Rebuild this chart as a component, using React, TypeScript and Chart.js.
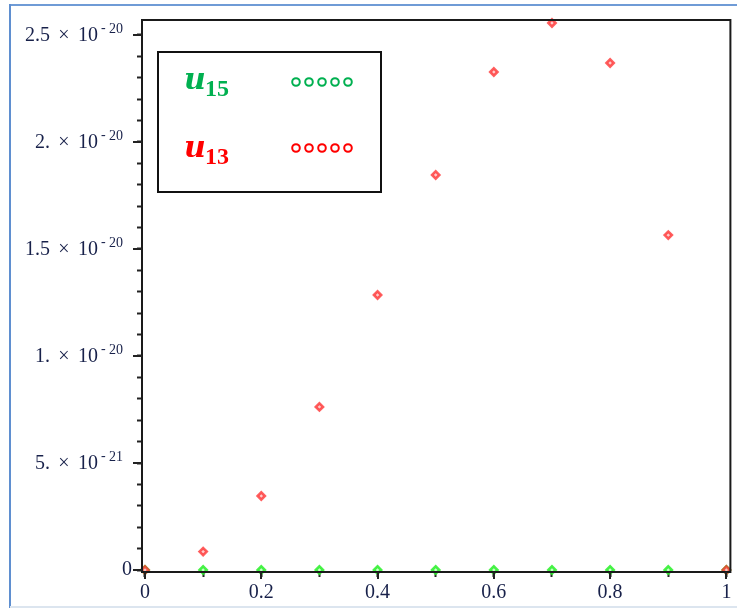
import React, { useEffect, useRef } from 'react';
import { Chart, registerables } from 'chart.js';

Chart.register(...registerables);

// ---- data ----
const xValues = [0, 0.1, 0.2, 0.3, 0.4, 0.5, 0.6, 0.7, 0.8, 0.9, 1];
const u15Values = [0, 0, 0, 0, 0, 0, 0, 0, 0, 0, 0];
const u13Values = [0, 8.6e-22, 3.46e-21, 7.62e-21, 1.285e-20, 1.846e-20, 2.327e-20, 2.556e-20, 2.369e-20, 1.565e-20, 0];

// ---- ticks ----
const xTickValues = [0, 0.1, 0.2, 0.3, 0.4, 0.5, 0.6, 0.7, 0.8, 0.9, 1];
const xTickLabels = ['0', '', '0.2', '', '0.4', '', '0.6', '', '0.8', '', '1'];
const xMajorValues = [0, 0.2, 0.4, 0.6, 0.8, 1];
const yTickValues = [
  0, 1e-21, 2e-21, 3e-21, 4e-21, 5e-21, 6e-21, 7e-21, 8e-21, 9e-21,
  1e-20, 1.1e-20, 1.2e-20, 1.3e-20, 1.4e-20, 1.5e-20, 1.6e-20, 1.7e-20, 1.8e-20, 1.9e-20,
  2e-20, 2.1e-20, 2.2e-20, 2.3e-20, 2.4e-20, 2.5e-20,
];
const yMajorValues = [0, 5e-21, 1e-20, 1.5e-20, 2e-20, 2.5e-20];
const yMajorCoefficients = ['0', '5.', '1.', '1.5', '2.', '2.5'];
const yMajorExponents = ['', '-21', '-20', '-20', '-20', '-20'];

// ---- legend ----
const legendSymbols = ['u', 'u'];
const legendSubscripts = ['15', '13'];
const legendColors = ['#00b050', '#ff0000'];

const LABEL_COLOR = '#18214a';
const SERIF = '"Liberation Serif", "Times New Roman", serif';

const decorPlugin = {
  id: 'decor',
  afterDraw(chart: any) {
    const { ctx, chartArea, scales } = chart;
    const ys = scales.y;
    const xs = scales.x;
    ctx.save();

    // plot frame
    ctx.strokeStyle = '#1a1a1a';
    ctx.lineWidth = 2;
    ctx.strokeRect(chartArea.left, chartArea.top, chartArea.right - chartArea.left, chartArea.bottom - chartArea.top);

    // longer major tick marks
    ctx.strokeStyle = '#222';
    ctx.lineWidth = 2;
    yMajorValues.forEach((v) => {
      const py = Math.round(ys.getPixelForValue(v));
      ctx.beginPath();
      ctx.moveTo(chartArea.left - 9, py);
      ctx.lineTo(chartArea.left, py);
      ctx.stroke();
    });
    xMajorValues.forEach((v) => {
      const px = Math.round(xs.getPixelForValue(v));
      ctx.beginPath();
      ctx.moveTo(px, chartArea.bottom);
      ctx.lineTo(px, chartArea.bottom + 7);
      ctx.stroke();
    });

    // y tick labels with exponents
    ctx.fillStyle = LABEL_COLOR;
    yMajorValues.forEach((v, i) => {
      const py = ys.getPixelForValue(v);
      const coef = yMajorCoefficients[i];
      const exp = yMajorExponents[i];
      ctx.textBaseline = 'middle';
      ctx.font = `20px ${SERIF}`;
      if (!exp) {
        ctx.textAlign = 'right';
        ctx.fillText(coef, 132, py);
        return;
      }
      ctx.textAlign = 'right';
      ctx.fillText(coef, 50, py + 1);
      ctx.textAlign = 'center';
      ctx.fillText('×', 64, py + 1);
      ctx.textAlign = 'left';
      ctx.fillText('10', 78, py + 1);
      ctx.font = `14px ${SERIF}`;
      ctx.fillText(exp.slice(0, 1), 101, py - 7);
      ctx.fillText(exp.slice(1), 109, py - 6);
    });

    // legend box
    const bx = 158, by = 52, bw = 223, bh = 140;
    ctx.fillStyle = '#ffffff';
    ctx.fillRect(bx, by, bw, bh);
    ctx.strokeStyle = '#111';
    ctx.lineWidth = 2;
    ctx.strokeRect(bx, by, bw, bh);
    const baselines = [89, 157];
    const circleYs = [82, 148];
    legendSymbols.forEach((sym, i) => {
      ctx.fillStyle = legendColors[i];
      ctx.textAlign = 'left';
      ctx.textBaseline = 'alphabetic';
      ctx.font = `italic bold 30px "DejaVu Serif", serif`;
      ctx.fillText(sym, 184, baselines[i]);
      ctx.font = `bold 24px ${SERIF}`;
      ctx.fillText(legendSubscripts[i], 205, baselines[i] + 7);
      ctx.strokeStyle = legendColors[i];
      ctx.lineWidth = 2;
      for (let k = 0; k < 5; k++) {
        ctx.beginPath();
        ctx.arc(296 + k * 13, circleYs[i], 3.8, 0, Math.PI * 2);
        ctx.stroke();
      }
    });
    ctx.restore();
  },
};

export default function App() {
  const ref = useRef<HTMLCanvasElement | null>(null);

  useEffect(() => {
    if (!ref.current) return;
    const chart = new Chart(ref.current, {
      type: 'scatter',
      data: {
        datasets: [
          {
            label: 'u13',
            data: xValues.map((x, i) => ({ x, y: u13Values[i] })),
            pointStyle: 'rectRot',
            pointRadius: 3.6,
            pointBorderWidth: 2.6,
            borderColor: 'rgba(255,40,40,0.75)',
            backgroundColor: 'rgba(255,190,190,0.8)',
            order: 0,
            clip: false,
          } as any,
          {
            label: 'u15',
            data: xValues.map((x, i) => ({ x, y: u15Values[i] })),
            pointStyle: 'rectRot',
            pointRadius: 3.6,
            pointBorderWidth: 2.6,
            borderColor: 'rgba(40,240,40,0.85)',
            backgroundColor: 'rgba(190,255,190,0.8)',
            order: 1,
            clip: false,
          } as any,
        ],
      },
      options: {
        responsive: false,
        animation: false,
        devicePixelRatio: 1,
        layout: { padding: { left: 0, top: 20, right: 6, bottom: 0 } },
        plugins: { legend: { display: false }, tooltip: { enabled: false } },
        scales: {
          x: {
            type: 'linear',
            min: -0.00515,
            max: 1.00687,
            afterBuildTicks: (s: any) => {
              s.ticks = xTickValues.map((v) => ({ value: v }));
            },
            afterFit: (s: any) => {
              s.height = 38;
            },
            grid: { drawOnChartArea: false, drawTicks: true, tickLength: 5, tickColor: '#222', tickWidth: 2 },
            border: { display: true, color: '#1a1a1a', width: 2 },
            ticks: {
              autoSkip: false,
              maxRotation: 0,
              padding: 4,
              color: LABEL_COLOR,
              font: { family: SERIF, size: 20 },
              callback: (_v: any, i: number) => xTickLabels[i],
            },
          },
          y: {
            type: 'linear',
            min: -9.3e-23,
            max: 2.57e-20,
            afterBuildTicks: (s: any) => {
              s.ticks = yTickValues.map((v) => ({ value: v }));
            },
            afterFit: (s: any) => {
              s.width = 142;
            },
            grid: { drawOnChartArea: false, drawTicks: true, tickLength: 5, tickColor: '#222', tickWidth: 2 },
            border: { display: true, color: '#1a1a1a', width: 2 },
            ticks: { display: false },
          },
        },
      } as any,
      plugins: [decorPlugin],
    });
    return () => chart.destroy();
  }, []);

  return (
    <div style={{ position: 'absolute', left: 0, top: 0, width: 737, height: 610, background: '#fff' }}>
      <canvas ref={ref} width={737} height={610} style={{ position: 'absolute', left: 0, top: 0 }} />
      <div style={{ position: 'absolute', left: 10, top: 4, width: 727, height: 2, background: '#6f9bd6' }} />
      <div style={{ position: 'absolute', left: 9, top: 4, width: 2, height: 604, background: '#5f8fd0' }} />
      <div style={{ position: 'absolute', left: 10, top: 606, width: 727, height: 2, background: '#dce5ef' }} />
    </div>
  );
}
